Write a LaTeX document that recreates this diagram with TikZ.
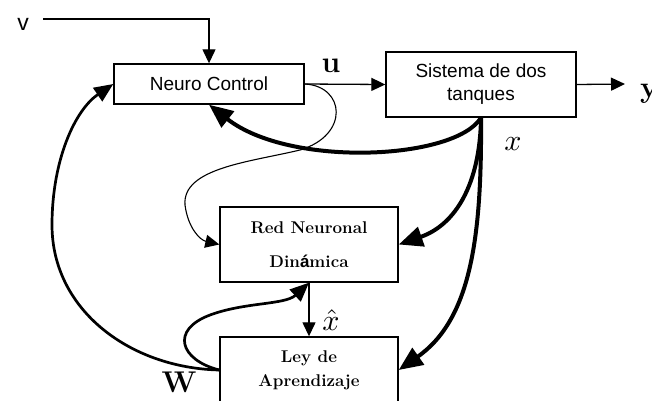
\documentclass[tikz,border=0pt]{standalone}
\usepackage{fontspec}
\newfontfamily\arial{Liberation Sans}
\usetikzlibrary{arrows.meta}

\begin{document}
\begin{tikzpicture}[x=1pt,y=-1pt,
  blockbox/.style={draw, line width=1.4pt, inner sep=0pt, align=center},
  sanstext/.style={font=\arial\fontsize{19}{23}\selectfont},
  boldtext/.style={font=\bfseries\fontsize{17}{24}\selectfont},
  biglabel/.style={font=\bfseries\fontsize{30}{30}\selectfont, inner sep=0pt, anchor=base},
  mathlabel/.style={inner sep=0pt, anchor=base},
  thinarrow/.style={line width=1.3pt, -{Triangle[length=14pt,width=13pt]}},
  medarrow/.style={line width=2.7pt, -{Triangle[length=19pt,width=16pt]}},
  thickarrow/.style={line width=4pt, -{Triangle[length=24pt,width=20pt]}},
  thinline/.style={line width=1.1pt, -{Triangle[length=14pt,width=13pt]}}
]
\useasboundingbox[fill=white] (0,0) rectangle (652,400);

% blocks
\node[blockbox, sanstext, minimum width=190pt, minimum height=40pt] (nc) at (209,84) {Neuro Control};
\node[blockbox, sanstext, minimum width=190pt, minimum height=65pt] (sys) at (481,84.5) {Sistema de dos\\tanques};
\node[blockbox, font=\bfseries\fontsize{17}{34}\selectfont, minimum width=178pt, minimum height=75pt] (red) at (309,244.5) {Red Neuronal\\Din{\arial á}mica};
\node[blockbox, boldtext, minimum width=178pt, minimum height=66pt] (ley) at (309,370) {Ley de\\Aprendizaje};

% signal labels
\node[font=\arial\fontsize{23}{23}\selectfont, inner sep=0pt, anchor=base] (vlab) at (23,30) {v};
\node[biglabel] (ulab) at (331,72) {u};
\node[biglabel, anchor=base west] (ylab) at (640,97) {y};
\node[biglabel] (wlab) at (179,392) {W};
\node[mathlabel] (xlab) at (513,150) {\scalebox{3}{$x$}};
\node[mathlabel] (xhatlab) at (331,330) {\scalebox{3}{$\hat{x}$}};

\coordinate (vstart) at (43,19);
\coordinate (yend) at (625,84);

% reference input and plant path
\draw[thinarrow] (vstart) -| (nc.north);
\draw[thinarrow] (nc.east) -- (sys.west);
\draw[thinarrow] (sys.east) -- (yend);

% control signal to the dynamic network
\draw[thinline] (nc.east) .. controls (345,86) and (350,135) .. (300,150)
  .. controls (250,162) and (182,168) .. (185,205)
  .. controls (188,228) and (200,240) .. (red.west);

% state feedback
\draw[thickarrow] (sys.south) .. controls (455,160) and (290,168) .. (nc.south);
\draw[thickarrow] (sys.south) .. controls (480,185) and (455,225) .. (red.east);
\draw[thickarrow] (sys.south) .. controls (482,240) and (470,320) .. (ley.east);

% estimated state
\draw[thinarrow] (red.south) -- (ley.north);

% weights
\draw[medarrow] (ley.west) .. controls (130,368) and (52,310) .. (52,225)
  .. controls (52,160) and (75,110) .. (nc.west);
\draw[medarrow] (ley.west) .. controls (180,360) and (170,330) .. (210,315)
  .. controls (245,302) and (285,305) .. (red.south);
\end{tikzpicture}
\end{document}
